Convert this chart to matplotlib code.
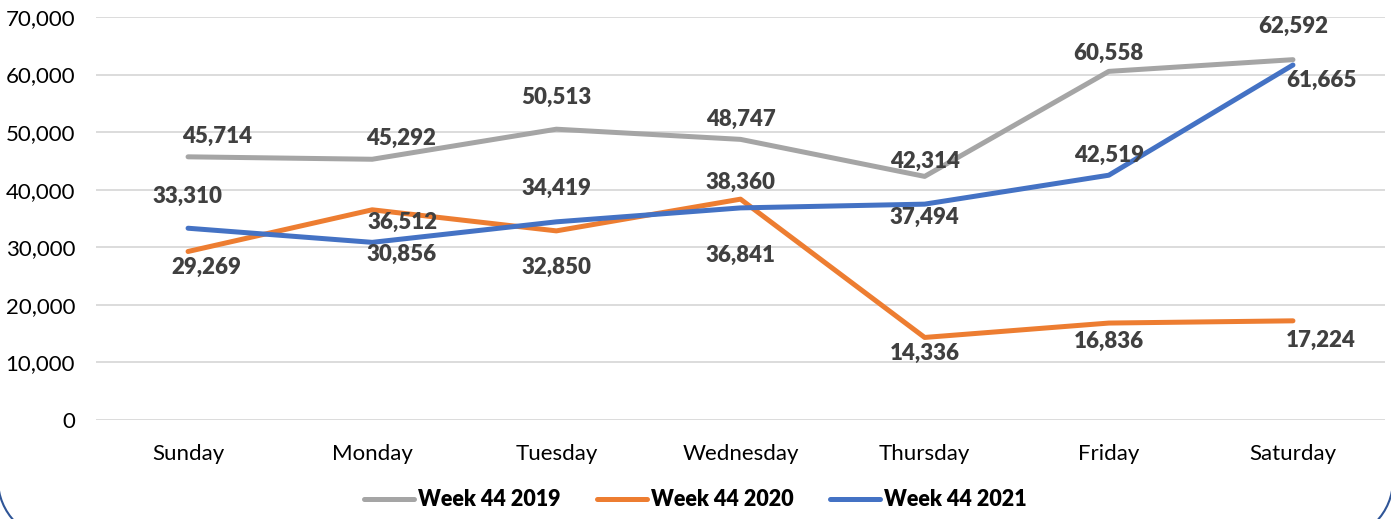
import matplotlib
matplotlib.use('Agg')
import numpy as np
from matplotlib import pyplot as plt
from matplotlib.patches import Arc
from matplotlib.ticker import FuncFormatter

# Data
days = ['Sunday', 'Monday', 'Tuesday', 'Wednesday', 'Thursday', 'Friday', 'Saturday']
week44_2019 = [45714, 45292, 50513, 48747, 42314, 60558, 62592]
week44_2020 = [29269, 36512, 32850, 38360, 14336, 16836, 17224]
week44_2021 = [33310, 30856, 34419, 36841, 37494, 42519, 61665]
series_names = ['Week 44 2019', 'Week 44 2020', 'Week 44 2021']

# Label offsets in pixels (dx, dy), as placed on the original chart
offs_2019 = [(29, 20), (29, 21), (0, 32), (0, 20), (0, 15), (0, 18), (0, 33)]
offs_2020 = [(18, -16), (30, -13), (0, -37), (0, 17), (0, -16), (0, -18), (28, -20)]
offs_2021 = [(-1, 32), (29, -12), (0, 33), (0, -48), (0, -13), (0, 20), (28, -15)]

colors = ['#A5A5A5', '#ED7D31', '#4472C4']

plt.rcParams['font.family'] = ['Lato', 'DejaVu Sans']

fig = plt.figure(figsize=(13.91, 5.19), dpi=100)
ax = fig.add_axes([0.069, 0.1908, 0.9267, 0.7764])

x = np.arange(len(days))
all_series = [week44_2019, week44_2020, week44_2021]
all_offs = [offs_2019, offs_2020, offs_2021]

for vals, offs, c, name in zip(all_series, all_offs, colors, series_names):
    ax.plot(x, vals, color=c, lw=3.6, solid_capstyle='round',
            solid_joinstyle='round', label=name, zorder=3)
    for xi, v, (dx, dy) in zip(x, vals, offs):
        ax.annotate(f'{v:,}', (xi, v), xytext=(dx, dy), textcoords='offset pixels',
                    ha='center', va='center', fontsize=16, fontweight='heavy',
                    color='#404040', zorder=5)

ax.set_xlim(-0.5, len(days) - 0.5)
ax.set_ylim(0, 70000)
ax.set_yticks(np.arange(0, 70001, 10000))
ax.yaxis.set_major_formatter(FuncFormatter(lambda v, p: f'{int(v):,}'))
ax.set_xticks(x)
ax.set_xticklabels(days)
ax.tick_params(axis='both', length=0, labelsize=16, colors='#000000')
ax.tick_params(axis='y', pad=15)
ax.tick_params(axis='x', pad=17)
ax.grid(axis='y', color='#D9D9D9', lw=1.3)
ax.set_axisbelow(True)
for s in ax.spines.values():
    s.set_visible(False)

leg = fig.legend(loc='center', bbox_to_anchor=(0.5, 0.037), ncol=3, frameon=False,
                 prop={'size': 15.5, 'weight': 'heavy'}, handlelength=2.3,
                 handletextpad=0.2, columnspacing=1.7)

# rounded corners of the chart frame, showing at the bottom
for cx, t1, t2 in [(0.58, 180, 270), (13.33, 270, 360)]:
    arc = Arc((cx, 0.39), 1.2, 1.2, theta1=t1, theta2=t2,
              transform=fig.dpi_scale_trans, edgecolor='#2F5597', lw=1.5,
              clip_on=False)
    fig.patches.append(arc)

fig.savefig('out.png', dpi=100)
